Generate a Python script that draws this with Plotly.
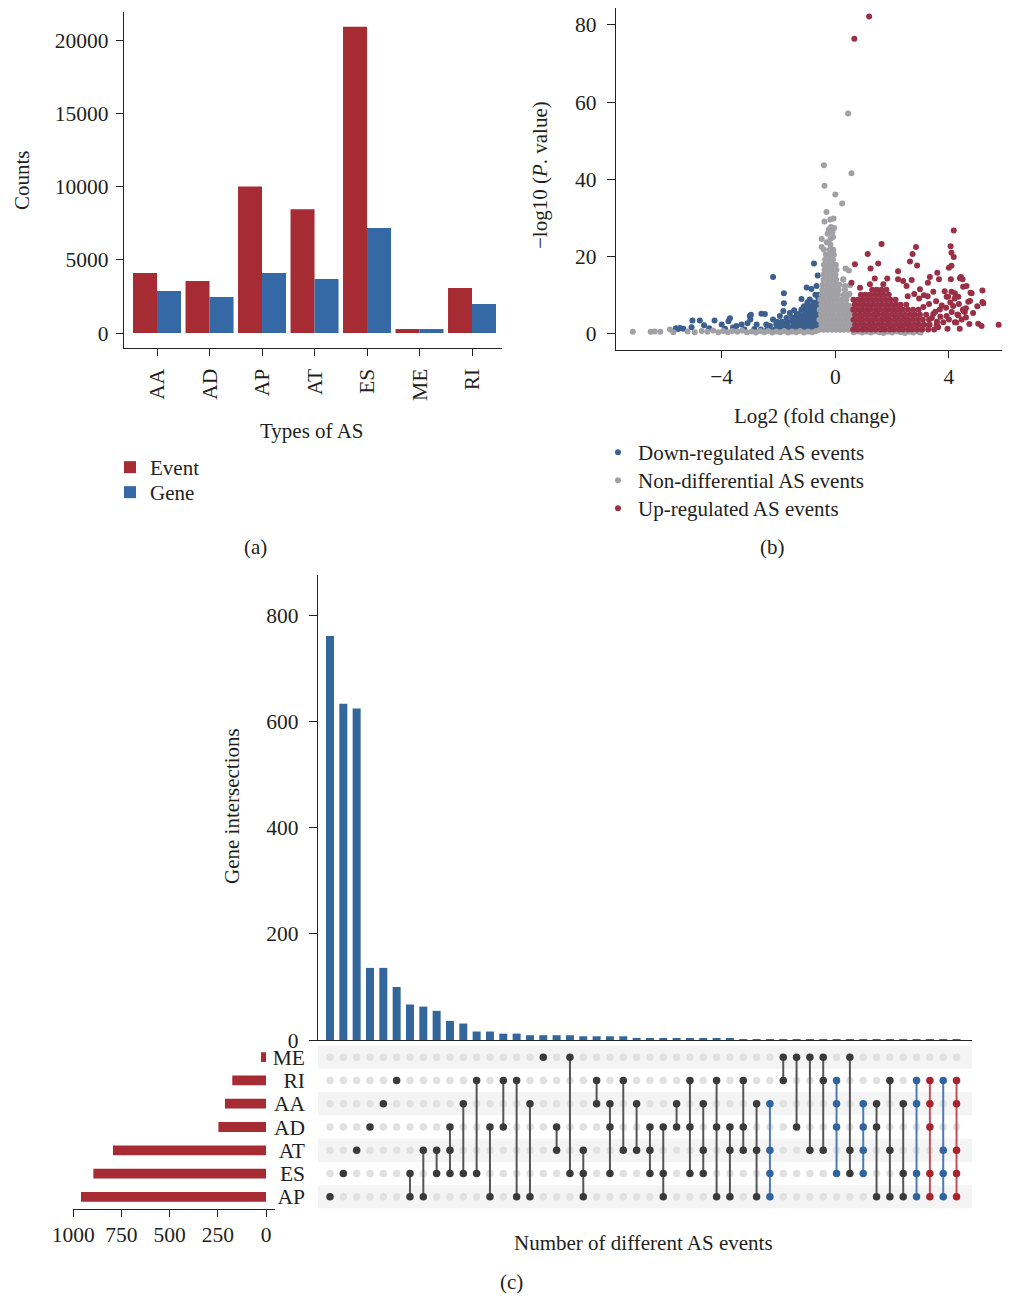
import plotly.graph_objects as go

W, H = 1010, 1297
FONT = "Liberation Serif"
TXT = "#231f20"
FS = 21
FT = 21.5

# ---------------- Panel (a) data ----------------
as_types = ["AA", "AD", "AP", "AT", "ES", "ME", "RI"]
event_counts = [4100, 3550, 10000, 8450, 20900, 270, 3070]
gene_counts = [2870, 2460, 4100, 3690, 7170, 270, 1980]

# ---------------- Panel (b) data ----------------
down_pts = [(-5.61, 1.3), (-5.47, 1.4), (-5.35, 1.2), (-5.53, 1.1), (-5.06, 1.6), (-5.03, 3.3),
            (-4.77, 3.3), (-4.62, 2.1), (-4.44, 1.3), (-4.25, 3.3), (-4.0, 2.3), (-3.88, 1.2),
            (-3.71, 3.9), (-3.76, 3.1), (-3.6, 1.5), (-3.48, 1.9), (-3.30, 2.3), (-3.09, 2.6),
            (-3.01, 4.5), (-2.97, 4.8), (-2.99, 3.6), (-2.77, 2.3), (-2.6, 5.1), (-2.48, 5.0),
            (-2.43, 2.3), (-2.19, 3.6), (-2.08, 2.3), (-1.95, 4.5), (-1.83, 5.8), (-1.81, 7.8),
            (-1.81, 10.4), (-2.19, 14.6), (-1.6, 5.3), (-1.52, 4.1), (-1.36, 4.9), (-1.19, 6.2),
            (-1.19, 8.9), (-1.17, 4.5), (-1.01, 11.9), (-0.99, 5.3), (-0.9, 8.8), (-0.9, 7.1),
            (-0.84, 11.5), (-0.79, 5.6), (-0.75, 18.1), (-0.73, 4.1), (-0.66, 12.3), (-0.66, 7.1),
            (-0.62, 15.0), (-0.6, 9.2), (-0.6, 4.9), (-1.73, 2.6), (-1.36, 2.3), (-0.9, 2.3),
            (-3.2, 1.0), (-2.85, 1.1), (-2.3, 1.0)]
down_rows = [(1.0, [-2.62, -2.4, -2.12, -1.92, -1.74, -1.55, -1.38, -1.22, -1.05, -0.9, -0.76, -0.62]),
             (1.9, [-2.3, -2.0, -1.85, -1.66, -1.47, -1.3, -1.14, -0.98, -0.83, -0.7, -0.58]),
             (3.0, [-2.05, -1.88, -1.68, -1.5, -1.33, -1.17, -1.03, -0.87, -0.74, -0.61]),
             (4.0, [-1.72, -1.44, -1.27, -1.1, -0.95, -0.81, -0.68, -0.57]),
             (5.1, [-1.28, -1.08, -0.92, -0.77, -0.64]),
             (6.0, [-1.45, -1.02, -0.86, -0.72, -0.6]),
             (7.0, [-1.1, -0.8, -0.68, -0.58]),
             (8.0, [-0.98, -0.76, -0.63]),
             (10.0, [-0.7, -0.59])]

non_pts = [(-7.13, 0.4), (-6.5, 0.4), (-6.36, 0.5), (-6.16, 0.4), (-5.82, 1.0), (-5.7, 0.3),
           (-5.2, 0.5), (-4.95, 0.3), (-4.7, 0.6), (-4.5, 0.4), (-4.3, 0.7), (-4.12, 0.3),
           (-3.95, 0.6), (-3.78, 0.3), (-3.62, 0.6), (-3.45, 0.4), (-3.28, 0.7), (-3.12, 0.3),
           (-2.95, 0.5), (-2.8, 0.2), (-2.65, 0.6), (-2.5, 0.3), (-2.36, 0.6), (-2.22, 0.2),
           (-2.08, 0.5), (-1.94, 0.3), (-1.8, 0.6), (-1.66, 0.2), (-1.52, 0.5), (-1.38, 0.3),
           (-1.24, 0.6), (-1.1, 0.2), (-0.96, 0.5), (-0.82, 0.3), (-0.68, 0.6),
           (0.65, 0.3), (0.8, 0.5), (0.95, 0.2), (1.1, 0.4), (1.25, 0.2), (1.4, 0.5), (1.55, 0.3),
           (1.7, 0.1), (1.85, 0.4), (2.0, 0.2), (2.15, 0.5), (2.3, 0.3), (2.45, 0.1), (2.6, 0.4),
           (2.75, 0.2), (2.92, 0.4), (3.0, 0.2),
           (0.45, 57.0), (-0.40, 43.6), (0.57, 41.5), (-0.38, 38.3), (0.0, 36.0), (0.24, 33.7),
           (-0.31, 31.5), (-0.06, 29.8), (-0.17, 29.5), (-0.38, 29.0), (-0.04, 27.3), (-0.15, 27.6),
           (-0.27, 25.8), (-0.48, 24.5), (-0.17, 24.5), (-0.48, 22.4), (-0.17, 23.0), (0.36, 16.8),
           (0.48, 16.3), (0.28, 14.0), (0.34, 12.3), (0.39, 8.8), (0.51, 7.1), (0.5, 10.2), (0.52, 12.5),
           (-0.3, 23.6), (-0.08, 25.0), (-0.22, 27.0), (-0.1, 26.2)]
non_rows = [(0.9, [-0.55, -0.41, -0.27, -0.12, 0.02, 0.17, 0.31, 0.46]),
            (2.2, [-0.49, -0.34, -0.2, -0.05, 0.09, 0.24, 0.39, 0.53]),
            (3.5, [-0.56, -0.42, -0.27, -0.13, 0.02, 0.16, 0.32, 0.47]),
            (4.8, [-0.5, -0.35, -0.2, -0.06, 0.1, 0.25, 0.4, 0.54]),
            (6.1, [-0.55, -0.41, -0.26, -0.12, 0.03, 0.18, 0.33, 0.47]),
            (7.4, [-0.49, -0.34, -0.2, -0.05, 0.1, 0.25, 0.4]),
            (8.7, [-0.53, -0.39, -0.24, -0.1, 0.05, 0.2, 0.37]),
            (10.0, [-0.48, -0.33, -0.18, -0.04, 0.1, 0.3, 0.45]),
            (11.3, [-0.46, -0.31, -0.17, -0.03, 0.12, 0.34]),
            (12.6, [-0.44, -0.29, -0.15, 0.0, 0.14]),
            (13.9, [-0.41, -0.26, -0.12, 0.03, 0.28]),
            (15.2, [-0.42, -0.28, -0.14, 0.01]),
            (16.5, [-0.38, -0.24, -0.1, 0.04]),
            (17.8, [-0.4, -0.25, -0.11, 0.02]),
            (19.1, [-0.36, -0.22, -0.08]),
            (20.4, [-0.33, -0.19, -0.05]),
            (21.7, [-0.4, -0.2, -0.07])]

up_pts = [(1.19, 82.2), (0.67, 76.4), (4.17, 26.7), (1.63, 23.2), (4.06, 22.6), (2.84, 22.4),
          (1.14, 20.6), (2.72, 20.6), (4.09, 20.9), (4.17, 19.8), (2.63, 18.6), (2.88, 17.6),
          (1.51, 18.1), (0.69, 17.9), (1.24, 16.8), (2.21, 16.1), (4.09, 17.5), (4.0, 17.0),
          (3.59, 15.7), (4.42, 14.6), (4.48, 14.0), (3.33, 14.6), (3.65, 14.0), (4.07, 14.0),
          (0.57, 13.1), (1.39, 14.2), (1.83, 14.2), (2.21, 14.0), (2.39, 13.6), (2.69, 13.8),
          (3.26, 13.1), (0.87, 11.8), (1.22, 12.7), (1.69, 12.7), (2.51, 12.3), (2.98, 11.4),
          (4.62, 12.3), (4.76, 10.5), (5.18, 11.1), (5.18, 8.1), (4.09, 10.8), (4.33, 9.5),
          (4.74, 8.4), (3.45, 10.8), (3.12, 9.9), (3.92, 9.5), (4.15, 7.1), (4.50, 6.2),
          (4.56, 5.5), (3.92, 4.5), (4.30, 4.9), (4.45, 3.6), (4.26, 2.8), (5.03, 2.5),
          (5.15, 1.9), (5.75, 2.2), (3.68, 6.2), (3.45, 5.0), (5.21, 7.8), (4.68, 8.2),
          (4.5, 12.1), (4.39, 14.3), (4.8, 10.4), (4.21, 2.9), (4.33, 4.7), (4.5, 6.0),
          (4.21, 10.4), (3.97, 9.5), (3.62, 1.6), (3.8, 2.9), (3.95, 1.2), (3.7, 4.3),
          (3.9, 6.6), (4.05, 8.0), (3.55, 8.3), (3.3, 7.6), (3.1, 6.8), (4.1, 5.5), (4.35, 7.6),
          (3.58, 3.0), (4.0, 3.6), (4.6, 4.1), (4.72, 2.4), (4.38, 1.2), (3.25, 9.6), (2.78, 10.2),
          (2.95, 9.0), (2.55, 9.6), (3.4, 4.0), (3.52, 5.6), (3.75, 7.2), (4.2, 9.0), (4.6, 6.5),
          (4.85, 5.3), (5.0, 7.0), (3.85, 10.9)]
up_rows = [(1.0, [0.63, 0.78, 0.96, 1.1, 1.27, 1.42, 1.6, 1.74, 1.92, 2.06, 2.24, 2.38, 2.56, 2.7, 2.88, 3.06, 3.27, 3.48]),
           (2.2, [0.7, 0.86, 1.02, 1.19, 1.34, 1.51, 1.66, 1.83, 1.98, 2.15, 2.31, 2.47, 2.62, 2.79, 2.95, 3.13, 3.32, 3.57]),
           (3.5, [0.64, 0.8, 0.95, 1.12, 1.28, 1.43, 1.6, 1.76, 1.9, 2.08, 2.23, 2.4, 2.55, 2.72, 2.9, 3.08, 3.3]),
           (4.8, [0.7, 0.87, 1.03, 1.18, 1.35, 1.5, 1.67, 1.82, 1.99, 2.14, 2.3, 2.46, 2.64, 2.8, 2.98, 3.2]),
           (6.1, [0.63, 0.79, 0.95, 1.11, 1.26, 1.43, 1.58, 1.75, 1.9, 2.06, 2.22, 2.38, 2.56, 2.74, 2.93]),
           (7.4, [0.69, 0.86, 1.02, 1.18, 1.34, 1.5, 1.66, 1.82, 1.98, 2.14, 2.3, 2.5]),
           (8.7, [0.64, 0.8, 0.96, 1.12, 1.28, 1.44, 1.6, 1.77, 1.94, 2.12]),
           (10.0, [0.9, 1.06, 1.22, 1.38, 1.54, 1.7, 1.88]),
           (11.3, [1.3, 1.46, 1.62, 1.8])]

# ---------------- Panel (c) data ----------------
set_names = ["AP", "ES", "AT", "AD", "AA", "RI", "ME"]      # bottom to top
set_sizes = [960, 896, 794, 247, 213, 175, 26]
intersections = [
    "AP", "ES", "AT", "AD", "AA", "RI",
    "ES AP", "AT AP", "AT ES", "AD AT ES", "AA ES", "RI ES", "AD AP", "RI AD", "RI AP", "AA AP",
    "ME", "AD AT", "ME ES", "AT ES AP", "RI AA", "AA AD ES", "RI AT", "AA AT",
    "AD AT ES", "AD ES AP", "AA AD", "RI AD ES", "AA AT ES", "RI AD AP", "AD AT AP", "RI AD AT",
    "AA AT AP", "AA AT ES AP",
    "ME RI", "ME AD", "ME AT", "ME RI AT", "RI AA AD ES", "ME AT ES", "AA AD AT ES", "AA AD AP",
    "RI AT AP", "AA ES AP", "RI AA ES AP", "RI AA AD ES AP", "RI AT ES AP", "RI AA AT ES AP"]
intersection_sizes = [762, 634, 625, 136, 136, 100, 67, 63, 55, 36, 31, 16, 16, 12, 12, 9,
                      9, 9, 9, 7, 7, 7, 7, 4, 3, 3, 3, 3, 3, 3, 3, 1,
                      1, 1, 1, 1, 1, 1, 1, 1, 1, 1, 1, 1, 1, 1, 1, 1]
blue_sets = ["AA AT ES AP", "RI AA AD ES", "AA AD AT ES", "RI AA ES AP", "RI AT ES AP"]
red_sets = ["RI AA AD ES AP", "RI AA AT ES AP"]

# ---------------- styles ----------------
RED = "#a62b33"
BLUE = "#3469a6"
UP_BLUE = "#33679b"
V_BLUE = "#3b5f8e"
V_GREY = "#a1a0a4"
V_RED = "#9a2f45"
AX = "#222222"
OFF = 8  # page offset of the figure inside the browser window


def fx(px):
    return min(1.0, max(0.0, (px - OFF) / W))


def fy(py):
    return min(1.0, max(0.0, 1 - (py - OFF) / H))


def expand(pts, rows):
    xs = [p[0] for p in pts]
    ys = [p[1] for p in pts]
    for yv, xlist in rows:
        for xv in xlist:
            xs.append(xv)
            ys.append(yv)
    return xs, ys


fig = go.Figure()

# Panel (a)
fig.add_trace(go.Bar(x=as_types, y=event_counts, name="Event", marker=dict(color=RED, line=dict(width=0)),
                     offset=-0.457, width=0.457, xaxis="x", yaxis="y", legend="legend"))
fig.add_trace(go.Bar(x=as_types, y=gene_counts, name="Gene", marker=dict(color=BLUE, line=dict(width=0)),
                     offset=0, width=0.457, xaxis="x", yaxis="y", legend="legend3"))

# Panel (b)
for name, pts, rows, col, lg in [("Down-regulated AS events", down_pts, down_rows, V_BLUE, "legend2"),
                                 ("Non-differential AS events", non_pts, non_rows, V_GREY, "legend4"),
                                 ("Up-regulated AS events", up_pts, up_rows, V_RED, "legend5")]:
    xs, ys = expand(pts, rows)
    fig.add_trace(go.Scatter(x=xs, y=ys, mode="markers", name=name,
                             marker=dict(color=col, size=6, line=dict(width=0)),
                             xaxis="x2", yaxis="y2", legend=lg))

# Panel (c) intersection bars
cols = list(range(len(intersections)))
fig.add_trace(go.Bar(x=cols, y=intersection_sizes, marker=dict(color=UP_BLUE, line=dict(width=0)),
                     width=0.6, xaxis="x3", yaxis="y3", showlegend=False))

# Matrix
row_of = {s: i for i, s in enumerate(set_names)}
gx, gy = [], []
groups = {"k": ([], [], [], []), "b": ([], [], [], []), "r": ([], [], [], [])}
for c, combo in enumerate(intersections):
    members = combo.split()
    key = "b" if combo in blue_sets else ("r" if combo in red_sets else "k")
    dx, dy, lx, ly = groups[key]
    rows_in = [row_of[m] for m in members]
    for s in set_names:
        if s in members:
            dx.append(c)
            dy.append(row_of[s])
        else:
            gx.append(c)
            gy.append(row_of[s])
    if len(rows_in) > 1:
        lx += [c, c, None]
        ly += [min(rows_in), max(rows_in), None]

fig.add_trace(go.Scatter(x=gx, y=gy, mode="markers", marker=dict(color="#e1e1e1", size=7.5),
                         xaxis="x4", yaxis="y4", showlegend=False, hoverinfo="skip"))
style = {"k": ("#3a3a3a", "#555555"), "b": ("#2f64a0", "#4d7bb3"), "r": ("#a8232e", "#c0505a")}
for key, (dx, dy, lx, ly) in groups.items():
    dcol, lcol = style[key]
    fig.add_trace(go.Scatter(x=lx, y=ly, mode="lines", line=dict(color=lcol, width=2),
                             xaxis="x4", yaxis="y4", showlegend=False, hoverinfo="skip"))
    fig.add_trace(go.Scatter(x=dx, y=dy, mode="markers", marker=dict(color=dcol, size=7.5),
                             xaxis="x4", yaxis="y4", showlegend=False))

# Set size bars
fig.add_trace(go.Bar(x=set_sizes, y=list(range(len(set_names))), orientation="h", width=0.42,
                     marker=dict(color=RED, line=dict(width=0)), xaxis="x5", yaxis="y5", showlegend=False))

# stripes in matrix
shapes = []
for r in [0, 2, 4, 6]:
    shapes.append(dict(type="rect", xref="x4 domain", yref="y4", x0=0, x1=1, y0=r - 0.5, y1=r + 0.5,
                       fillcolor="#f4f4f4", line=dict(width=0), layer="below"))

tick_font = dict(family=FONT, size=FT, color=TXT)
common = dict(showgrid=False, zeroline=False, linecolor=AX, linewidth=1.3, tickcolor=AX,
              tickwidth=1.3, tickfont=tick_font, automargin=False)


def leg(xp, yp):
    return dict(x=fx(xp), y=fy(yp), xanchor="left", yanchor="top", bgcolor="rgba(0,0,0,0)",
                font=dict(family=FONT, size=FS, color=TXT), itemwidth=30, tracegroupgap=0)


fig.update_layout(
    width=W, height=H, margin=dict(l=0, r=0, t=0, b=0, autoexpand=False),
    paper_bgcolor="white", plot_bgcolor="rgba(0,0,0,0)",
    font=dict(family=FONT, size=FS, color=TXT),
    barmode="overlay",
    shapes=shapes,
    xaxis=dict(domain=[fx(124), fx(502)], range=[-0.629, 6.571], anchor="y", showline=True,
               ticks="outside", ticklen=7, tickangle=-90, ticklabelstandoff=4, **common),
    yaxis=dict(domain=[fy(348), fy(12)], range=[-1024, 21911], anchor="x", showline=True,
               ticks="outside", ticklen=7, tickvals=[0, 5000, 10000, 15000, 20000],
               tickformat="d", ticklabelstandoff=3, **common),
    xaxis2=dict(domain=[fx(616), fx(1008)], range=[-7.72, 6.08], anchor="y2", showline=True,
                ticks="outside", ticklen=7, tickvals=[-4, 0, 4], ticklabelstandoff=0, **common),
    yaxis2=dict(domain=[fy(350), fy(8)], range=[-4.33, 84.4], anchor="x2", showline=True,
                ticks="outside", ticklen=8, tickvals=[0, 20, 40, 60, 80], ticklabelstandoff=6, **common),
    xaxis3=dict(domain=[fx(318), fx(972)], range=[-0.9, 48.16], anchor="y3", showline=True,
                ticks="", showticklabels=False, **common),
    yaxis3=dict(domain=[fy(1040), fy(575)], range=[0, 877], anchor="x3", showline=True,
                ticks="outside", ticklen=8, tickvals=[0, 200, 400, 600, 800], ticklabelstandoff=6, **common),
    xaxis4=dict(domain=[fx(318), fx(972)], range=[-0.9, 48.16], anchor="y4", visible=False, automargin=False),
    yaxis4=dict(domain=[fy(1208.5), fy(1045.5)], range=[-0.5, 6.5], anchor="x4", showline=False,
                ticks="", tickvals=list(range(len(set_names))), ticktext=set_names,
                ticklabelstandoff=12, **common),
    xaxis5=dict(domain=[fx(73.3), fx(275)], range=[1000, -46.7], anchor="y5", showline=True,
                ticks="outside", ticklen=7, tickvals=[0, 250, 500, 750, 1000], ticklabelstandoff=0, **common),
    yaxis5=dict(domain=[fy(1208.5), fy(1045.5)], range=[-0.5, 6.5], anchor="x5", visible=False, automargin=False),
    legend=leg(110, 447),
    legend3=leg(110, 472),
    legend2=leg(598, 432),
    legend4=leg(598, 460),
    legend5=leg(598, 488),
)

annots = [
    ("Counts", 22, 180, -90),
    ("Types of AS", 312, 431, 0),
    ("(a)", 255, 547, 0),
    ("−log10 (<i>P</i>. value)", 540, 175, -90),
    ("Log2 (fold change)", 815, 416, 0),
    ("(b)", 772, 547, 0),
    ("Gene intersections", 232, 806, -90),
    ("Number of different AS events", 643, 1243, 0),
    ("(c)", 511, 1282, 0),
]
for text, ax_, ay_, ang in annots:
    fig.add_annotation(text=text, x=fx(ax_), y=fy(ay_), xref="paper", yref="paper",
                       xanchor="center", yanchor="middle", showarrow=False, textangle=ang,
                       font=dict(family=FONT, size=FS, color=TXT))

fig.write_html("out.html")
